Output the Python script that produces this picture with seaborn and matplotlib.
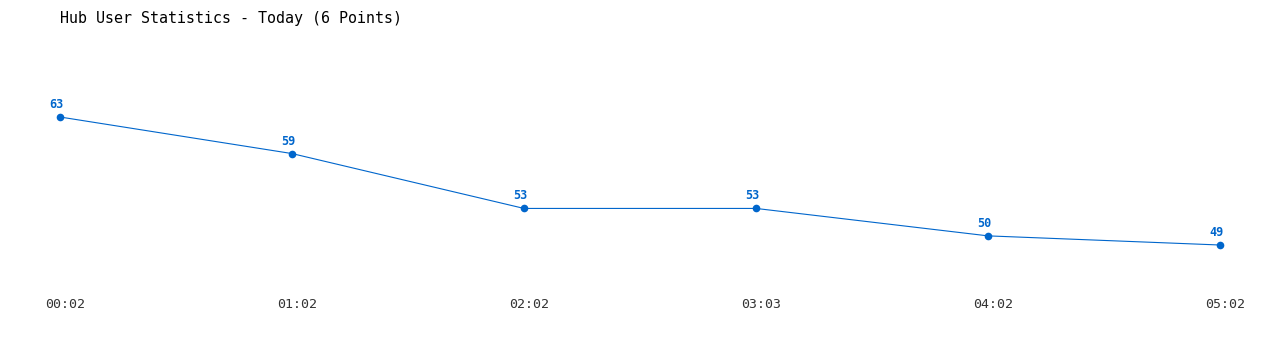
import matplotlib
matplotlib.use("Agg")
import matplotlib.pyplot as plt
import matplotlib.transforms as mtransforms
import seaborn as sns
import pandas as pd

times = ["00:02", "01:02", "02:02", "03:03", "04:02", "05:02"]
users = [63, 59, 53, 53, 50, 49]
title = "Hub User Statistics - Today (6 Points)"

color = "#0066cc"

sns.set_style("white")
plt.rcParams['font.family'] = ['DejaVu Sans Mono', 'DejaVu Sans']

df = pd.DataFrame({"idx": range(len(times)), "time": times, "users": users})

fig = plt.figure(figsize=(12.8, 3.5), dpi=100)
ax = fig.add_axes([60/1280, 60/350, 1160/1280, 250/350])
sns.lineplot(data=df, x="idx", y="users", ax=ax, color=color, linewidth=0.8,
             marker="o", markersize=5.5, markeredgewidth=0, clip_on=False)
for i, v in zip(df["idx"], df["users"]):
    ax.annotate(str(v), (i, v), xytext=(-2.5, 4.3), textcoords="offset points",
                ha="center", va="bottom", fontsize=8.5, fontweight="bold", color=color)

ax.set_xlim(0, 5)
ax.set_ylim(44.08, 71.42)
ax.set_xticks(df["idx"])
ax.set_xticklabels(times, fontsize=9.5, color="#333333")
ax.set_yticks([])
ax.tick_params(axis="x", length=0, pad=5.5)
shift = mtransforms.ScaledTranslation(5/100, 0, fig.dpi_scale_trans)
for lbl in ax.get_xticklabels():
    lbl.set_transform(lbl.get_transform() + shift)
ax.set_xlabel("")
ax.set_ylabel("")
for s in ax.spines.values():
    s.set_visible(False)

fig.text(60/1280, 1 - 18/350, title, ha="left", va="center", fontsize=10.8, color="#000000")

fig.savefig("out.png", dpi=100)
